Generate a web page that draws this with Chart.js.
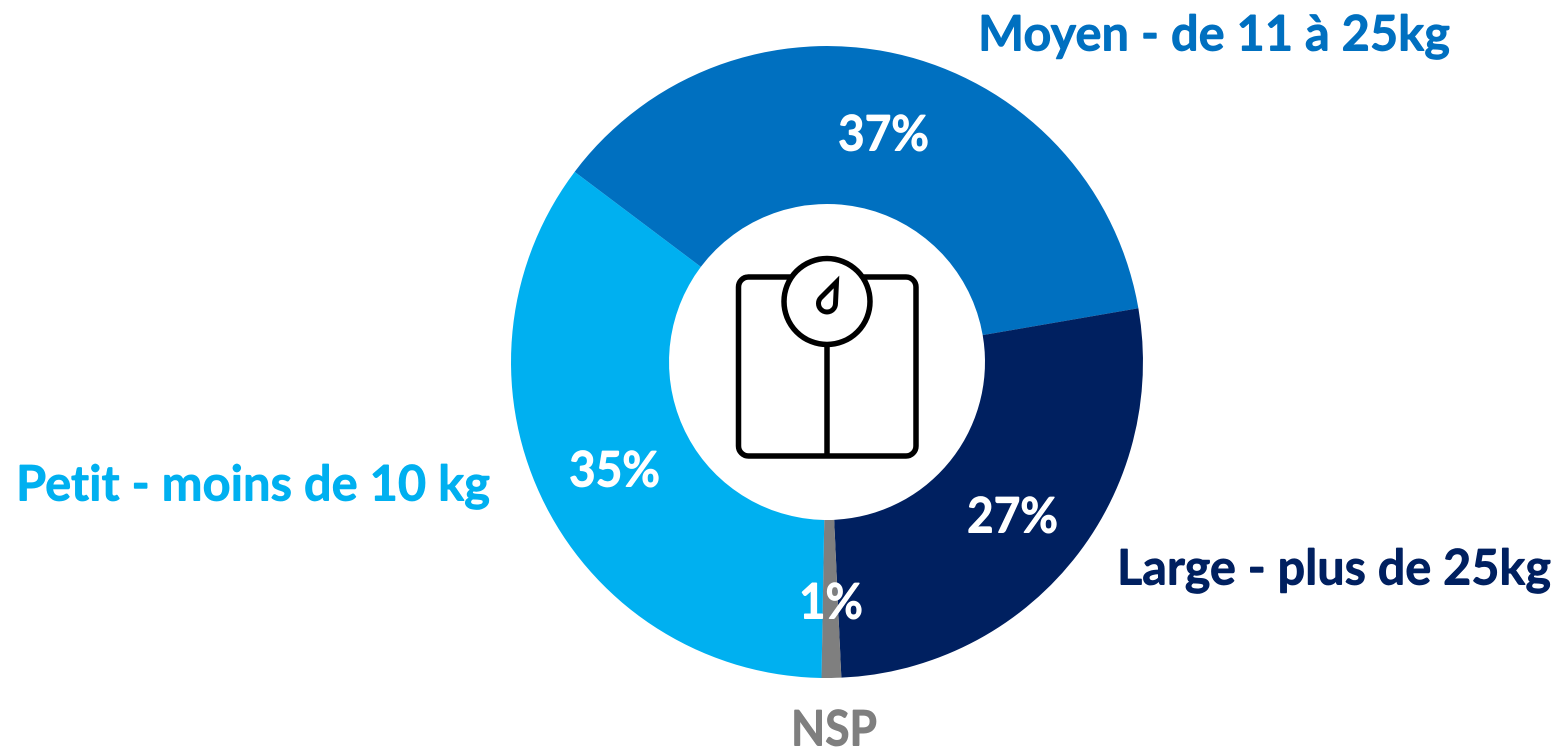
<!DOCTYPE html>
<html><head><meta charset="utf-8">
<style>html,body{margin:0;padding:0;background:#fff;overflow:hidden}canvas{display:block}</style>
<script src="https://cdn.jsdelivr.net/npm/chart.js@4"></script>
</head><body><div style="width:1557px;height:748px"><canvas id="c" style="width:1557px;height:748px"></canvas></div>
<script>
const categories = ['Moyen - de 11 à 25kg', 'Large - plus de 25kg', 'NSP', 'Petit - moins de 10 kg'];
const values = [37, 27, 1, 35];
const colors = ['#0070C0', '#002060', '#7F7F7F', '#00B0F0'];
// layout of the text: [left, baseline, width]
const nameBoxes = [[978, 50.5, 472], [1117, 584.5, 434], [791, 745.5, 86], [16, 500.5, 474]];
const pctBoxes = [[838, 150.5, 91], [967, 532.5, 91], [799, 618.5, 64], [569, 486.5, 91]];
const FONT = 'bold 49px Lato, Carlito, "Noto Sans", sans-serif';

const annotate = {
  id: 'annotate',
  afterDraw(chart) {
    const c = chart.ctx;
    c.save();
    c.textAlign = 'left';
    c.textBaseline = 'alphabetic';
    c.font = FONT;
    c.textRendering = 'geometricPrecision';
    const put = (text, box, color) => {
      c.fillStyle = color;
      // ligature breaker keeps "ti" as two glyphs, as in the reference
      const t = text.replace('ti', 't\u200Ci');
      c.fillText(t, box[0] - 0.4, box[1], box[2]);
      c.fillText(t, box[0] + 0.4, box[1], box[2]);
      c.fillText(t, box[0], box[1] - 0.3, box[2]);
      c.fillText(t, box[0], box[1] + 0.3, box[2]);
    };
    categories.forEach((name, i) => {
      put(name, nameBoxes[i], colors[i]);
      put(values[i] + '%', pctBoxes[i], '#fff');
    });
    // scale icon
    c.strokeStyle = '#000';
    c.lineWidth = 5.5;
    c.lineCap = 'butt';
    c.lineJoin = 'round';
    c.beginPath();
    c.moveTo(792, 277);
    c.lineTo(748, 277);
    c.arcTo(738.5, 277, 738.5, 287, 10);
    c.lineTo(738.5, 446);
    c.arcTo(738.5, 456, 748, 456, 10);
    c.lineTo(906, 456);
    c.arcTo(916, 456, 916, 446, 10);
    c.lineTo(916, 287);
    c.arcTo(916, 277, 906, 277, 10);
    c.lineTo(862, 277);
    c.stroke();
    c.beginPath();
    c.arc(827, 301.5, 43, 0, Math.PI * 2);
    c.stroke();
    c.beginPath();
    c.moveTo(827, 345);
    c.lineTo(827, 456);
    c.stroke();
    c.lineWidth = 5;
    c.lineJoin = 'miter';
    c.beginPath();
    c.moveTo(836.5, 282);
    c.lineTo(821, 297.5);
    c.arc(827, 303.5, 8.5, Math.PI * 1.25, 0, true);
    c.closePath();
    c.stroke();
    c.restore();
  }
};

new Chart(document.getElementById('c'), {
  type: 'doughnut',
  data: { labels: categories, datasets: [{ data: values, backgroundColor: colors, borderWidth: 0 }] },
  options: {
    responsive: true,
    maintainAspectRatio: false,
    devicePixelRatio: 2,
    animation: false,
    cutout: '50%',
    rotation: -53,
    layout: { padding: { left: 511, right: 414, top: 46, bottom: 70 } },
    plugins: { legend: { display: false }, tooltip: { enabled: false } }
  },
  plugins: [annotate]
});
</script></body></html>
